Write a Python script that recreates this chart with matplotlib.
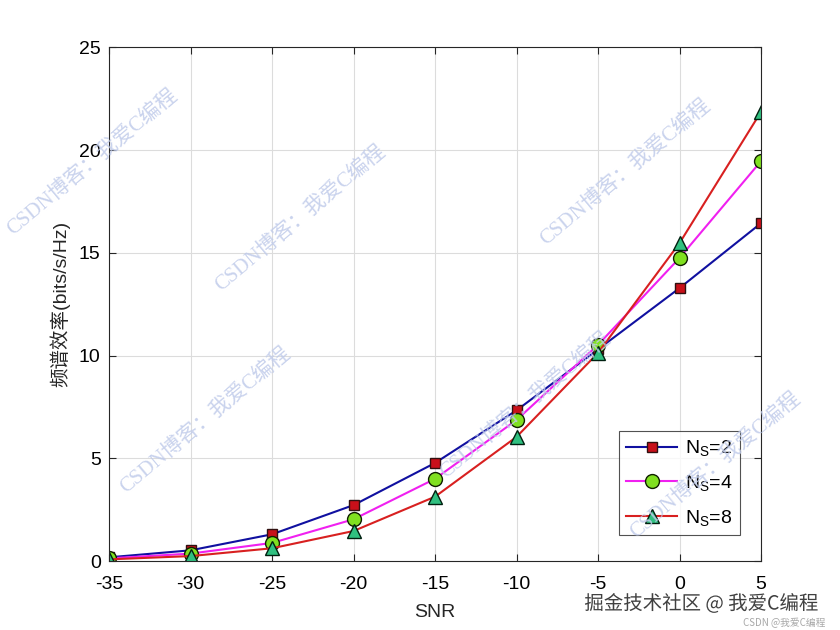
import matplotlib
matplotlib.use("Agg")
import matplotlib.pyplot as plt
import matplotlib.patheffects as pe

plt.rcParams['font.family'] = ['Liberation Sans', 'Noto Sans CJK SC', 'DejaVu Sans']
plt.rcParams['mathtext.fontset'] = 'custom'
plt.rcParams['mathtext.rm'] = 'Liberation Sans'
plt.rcParams['mathtext.it'] = 'Liberation Sans'

snr = [-35, -30, -25, -20, -15, -10, -5, 0, 5]
se_ns2 = [0.18, 0.52, 1.30, 2.72, 4.77, 7.33, 10.30, 13.28, 16.44]
se_ns4 = [0.13, 0.36, 0.88, 2.03, 4.00, 6.86, 10.52, 14.75, 19.46]
se_ns8 = [0.08, 0.24, 0.62, 1.46, 3.13, 6.04, 10.13, 15.47, 21.86]
labels = ['$\\mathregular{N_S}$=2', '$\\mathregular{N_S}$=4', '$\\mathregular{N_S}$=8']

fig = plt.figure(figsize=(8.4, 6.3), dpi=100)
ax = fig.add_axes([0.1298, 0.1095, 0.7762, 0.8155])

ax.plot(snr, se_ns2, '-s', color='#1010a0', lw=1.5, ms=7, mfc='#c8101a', mec='#301010', mew=1.0, label=labels[0])
ax.plot(snr, se_ns4, '-o', color='#f020f0', lw=1.5, ms=10, mfc='#80e020', mec='#102000', mew=1.0, label=labels[1])
ax.plot(snr, se_ns8, '-^', color='#d82020', lw=1.5, ms=10, mfc='#30c080', mec='#002010', mew=1.0, label=labels[2])

ax.set_xlim(-35, 5)
ax.set_ylim(0, 25)
ax.set_xticks(snr)
ax.set_xticklabels([str(v) for v in snr])
ax.set_yticks([0, 5, 10, 15, 20, 25])
ax.grid(True, color='#dcdcdc', lw=0.8)
ax.tick_params(direction='in', top=True, right=True, labelsize=14, length=5, color='#262626')
ax.tick_params(axis='x', pad=11)
ax.tick_params(axis='y', pad=6)
for s in ax.spines.values():
    s.set_color('#262626')
    s.set_linewidth(0.8)
ax.set_xlabel('SNR', fontsize=14, color='#262626', labelpad=8)
ax.set_ylabel('频谱效率(bits/s/Hz)', fontsize=14, color='#262626', labelpad=6)

leg = ax.legend(loc='lower right', fontsize=14, frameon=True, fancybox=False,
                edgecolor='#262626', borderpad=0.4, handlelength=2.6, handletextpad=0.4,
                labelspacing=0.75, borderaxespad=0, bbox_to_anchor=(0.968, 0.05))
leg.get_frame().set_linewidth(0.8)

# watermarks
wm = 'CSDN博客：我爱C编程'
for (x, y) in [(92, 162), (300, 218), (625, 172), (205, 420), (525, 405), (715, 465)]:
    fig.text(x / 840, 1 - y / 630, wm, fontsize=15, color='#c0cbea', alpha=0.85,
             rotation=40, ha='center', va='center', family=['Liberation Serif', 'Noto Sans CJK SC'])
fig.text(0.975, 1 - 604 / 630, '掘金技术社区 @ 我爱C编程', fontsize=14, color='#404040',
         ha='right', va='center', family=['Noto Sans CJK SC'],
         path_effects=[pe.withStroke(linewidth=2, foreground='white')])
fig.text(0.983, 1 - 623 / 630, 'CSDN @我爱C编程', fontsize=7, color='#a8a8a8',
         ha='right', va='center', family=['Noto Sans CJK SC'])

fig.savefig('out.png', dpi=100, facecolor='white')
